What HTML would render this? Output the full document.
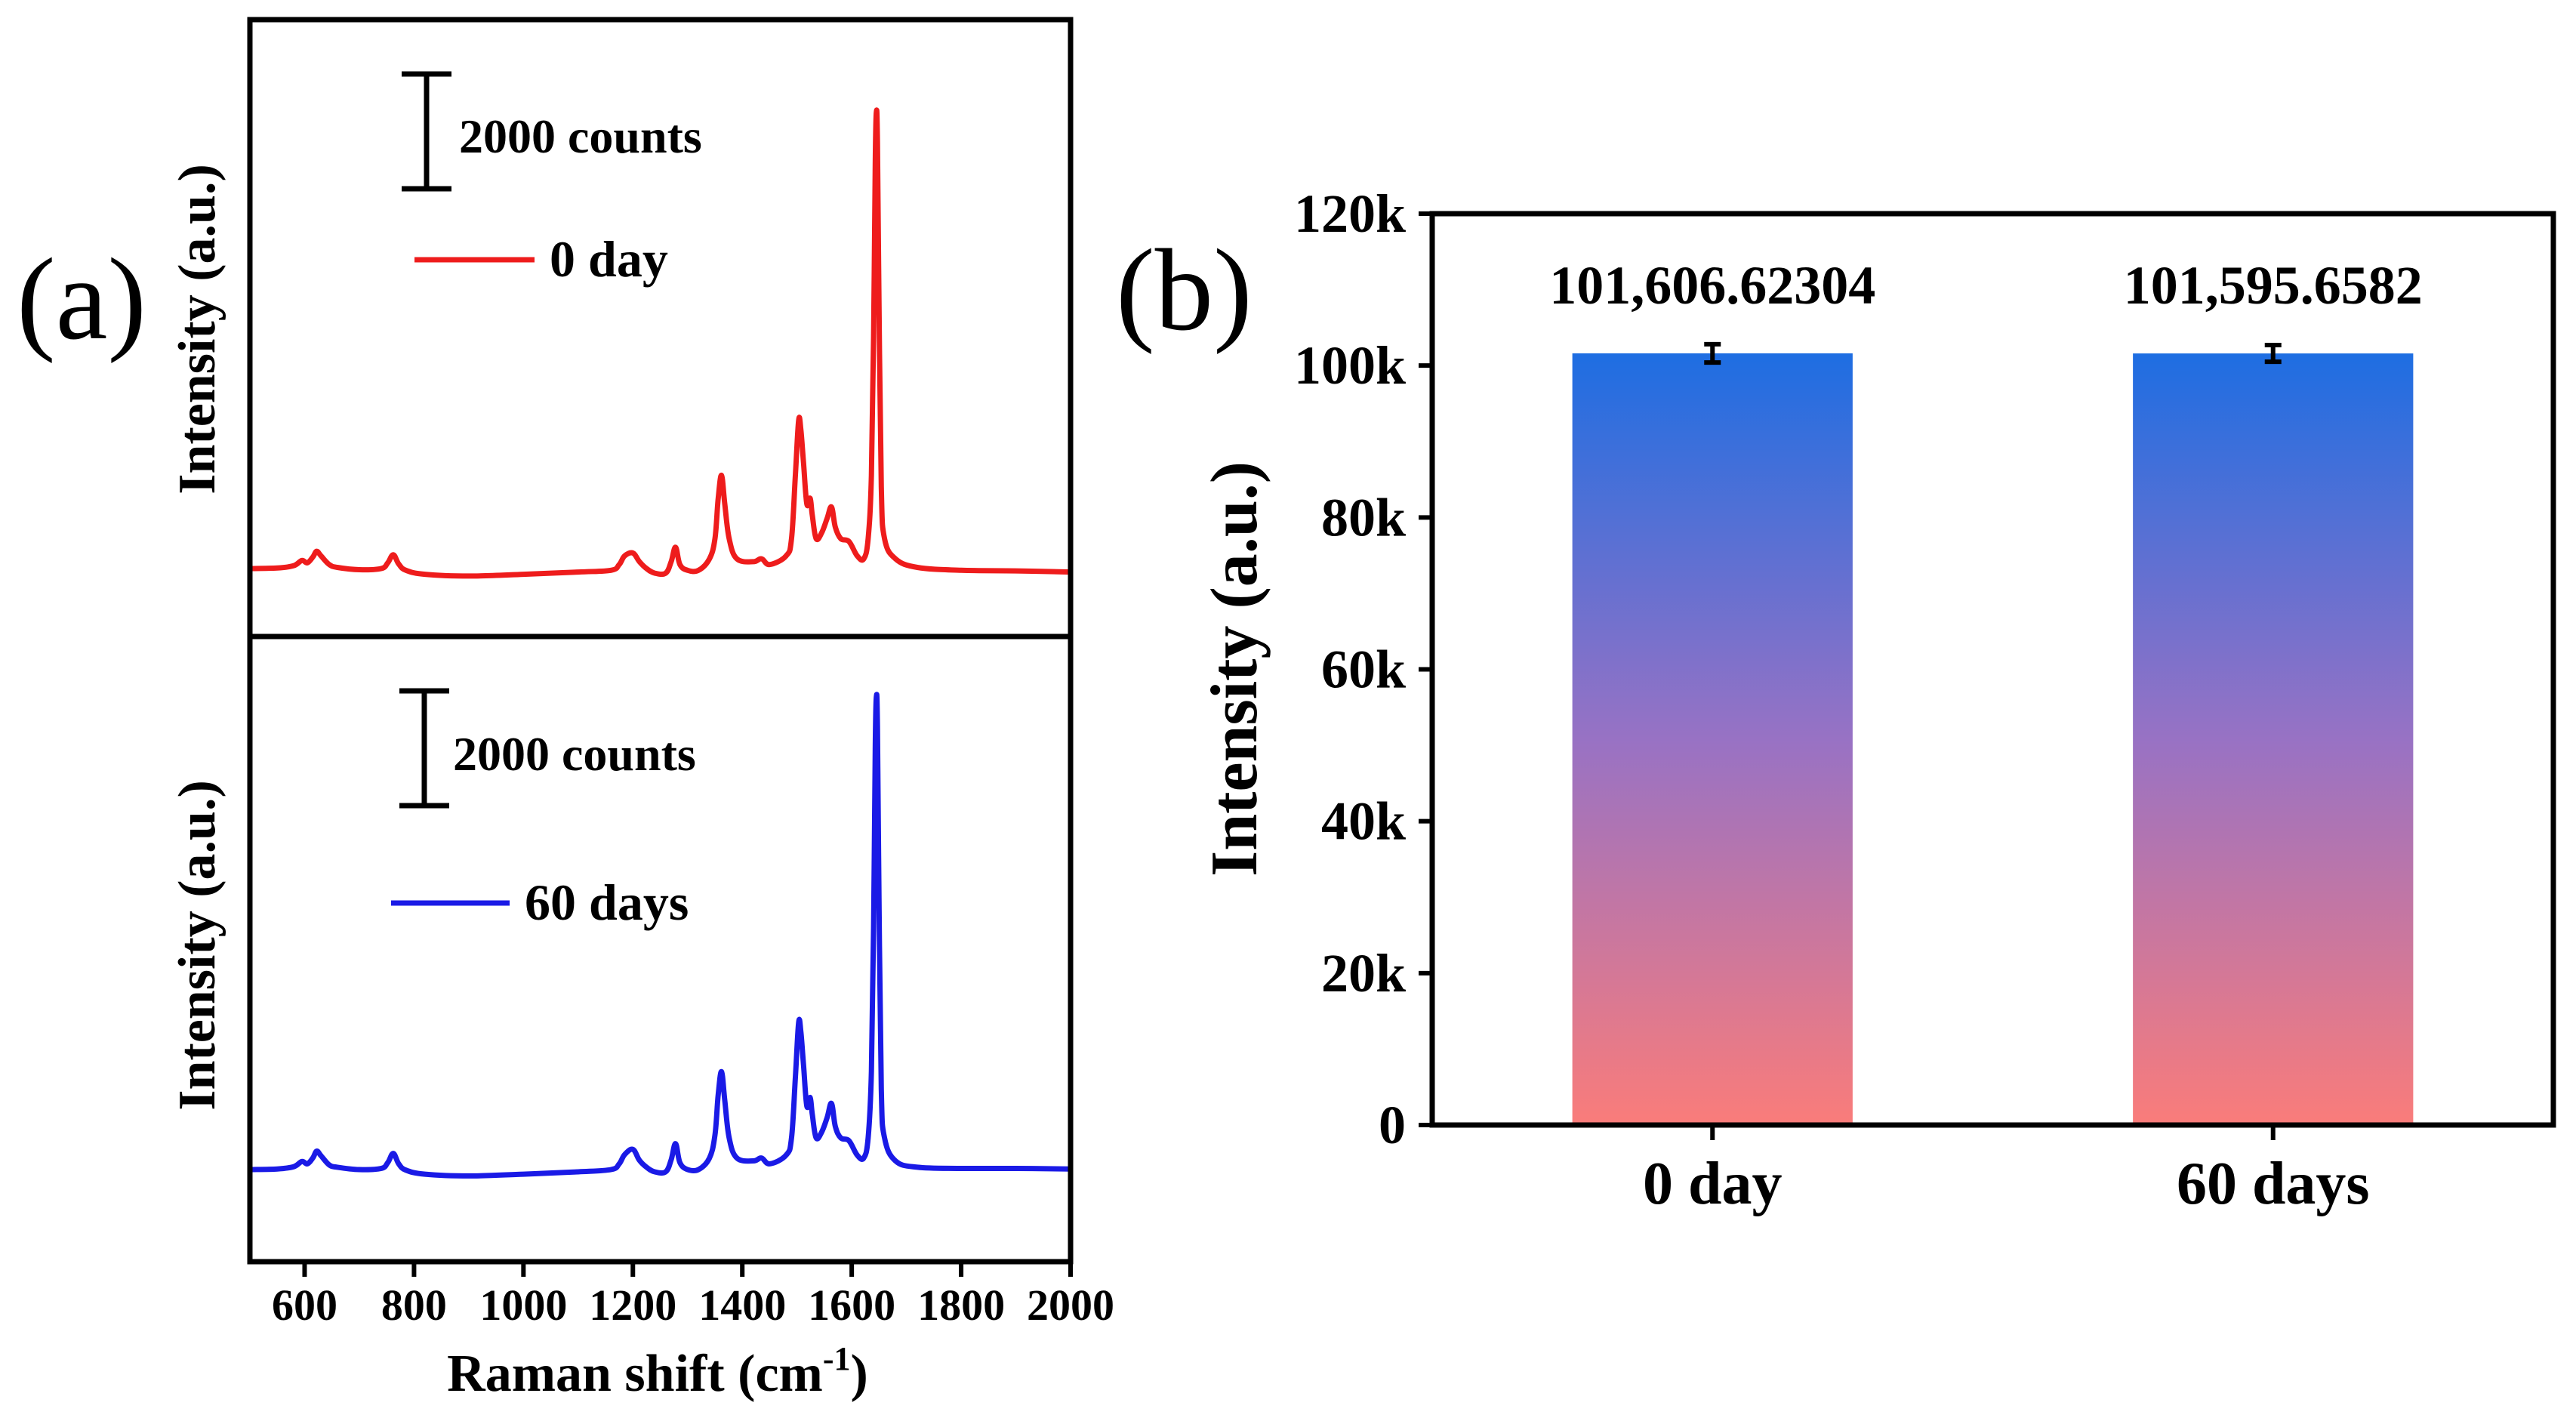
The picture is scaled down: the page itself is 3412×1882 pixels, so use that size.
<!DOCTYPE html>
<html><head><meta charset="utf-8"><style>
html,body{margin:0;padding:0;background:#fff;}
svg{display:block;font-family:"Liberation Serif",serif;}
</style></head><body>
<svg id="fig" width="3412" height="1882" viewBox="0 0 3412 1882" xmlns="http://www.w3.org/2000/svg">
<defs>
<linearGradient id="barGrad" x1="0" y1="0" x2="0" y2="1">
<stop offset="0" stop-color="#1e6ee2"/>
<stop offset="0.5" stop-color="#9872c4"/>
<stop offset="1" stop-color="#fa7c7a"/>
</linearGradient>
</defs>
<g id="panelA"></g>
<g id="panelB"></g>
</svg>
<script>
// ---- Panel (a) data ----
const ramanShift = [500,550,580,595,605,615,622,630,645,660,700,740,752,762,772,785,820,900,1000,1100,1160,1175,1185,1200,1212,1225,1240,1260,1270,1278,1286,1300,1320,1340,1350,1356,1362,1368,1376,1390,1420,1435,1450,1480,1490,1497,1503,1507,1512,1518,1524,1528,1535,1545,1555,1563,1570,1580,1595,1610,1622,1630,1636,1640,1643,1645,1647,1650,1654,1660,1680,1720,1800,1900,2000];
const counts0day = [1180,1190,1230,1320,1280,1380,1480,1400,1250,1200,1160,1180,1280,1420,1260,1150,1080,1050,1080,1120,1150,1250,1400,1450,1300,1180,1100,1100,1300,1550,1250,1150,1150,1350,1700,2400,2800,2300,1700,1350,1300,1350,1250,1400,1700,2800,3750,3600,3000,2300,2400,2100,1700,1800,2050,2250,1900,1700,1650,1400,1350,1700,2800,5200,8200,9100,8600,5600,2600,1700,1350,1200,1150,1140,1120];
const counts60days = [1600,1610,1650,1740,1700,1800,1920,1840,1680,1640,1600,1620,1720,1880,1700,1590,1520,1490,1520,1560,1600,1700,1860,1950,1760,1640,1560,1560,1770,2050,1720,1600,1600,1800,2200,2900,3300,2800,2150,1800,1750,1800,1700,1850,2150,3200,4150,4000,3400,2700,2850,2550,2150,2250,2500,2750,2350,2150,2100,1850,1800,2150,3300,5800,8900,9800,9300,6100,3000,2150,1750,1640,1620,1620,1610];
const xTicks = [600,800,1000,1200,1400,1600,1800,2000];
// ---- Panel (b) data ----
const categories = ["0 day","60 days"];
const barValues = [101606.62304, 101595.6582];
const barErrors = [1200, 1100];
const barLabels = ["101,606.62304","101,595.6582"];
const yTicksB = [0,20000,40000,60000,80000,100000,120000];
const yTickLabelsB = ["0","20k","40k","60k","80k","100k","120k"];

const NS="http://www.w3.org/2000/svg";
function mk(parent, tag, attrs, text){const e=document.createElementNS(NS,tag);for(const k in attrs)e.setAttribute(k,attrs[k]);if(text!==undefined)e.textContent=text;parent.appendChild(e);return e;}

// Panel A
const A=document.getElementById('panelA');
const axL=331, axR=1418, top1=26, mid=843, bot=1671;
const xA=v=>axL+(v-500)/1500*(axR-axL);
const yTop=c=>mid-(c/10714)*(mid-top1);
const yBot=c=>bot-(c/10857)*(bot-mid);
function drawSeries(vals, yf, color, name){
  const pts=ramanShift.map((x,i)=>[xA(x),yf(vals[i])]);
  let d='M'+pts[0][0].toFixed(1)+','+pts[0][1].toFixed(1);
  for(let i=0;i<pts.length-1;i++){
    const p0=pts[Math.max(0,i-1)],p1=pts[i],p2=pts[i+1],p3=pts[Math.min(pts.length-1,i+2)];
    const t=0.18;
    const c1x=p1[0]+(p2[0]-p0[0])*t, c1y=p1[1]+(p2[1]-p0[1])*t;
    const c2x=p2[0]-(p3[0]-p1[0])*t, c2y=p2[1]-(p3[1]-p1[1])*t;
    d+='C'+c1x.toFixed(1)+','+c1y.toFixed(1)+' '+c2x.toFixed(1)+','+c2y.toFixed(1)+' '+p2[0].toFixed(1)+','+p2[1].toFixed(1);
  }
  const p=mk(A,'path',{d:d,fill:'none',stroke:color,'stroke-width':7,'stroke-linejoin':'round'});
  
  
}
drawSeries(counts0day,yTop,'#ee1c1c','spectrum-0-day');
drawSeries(counts60days,yBot,'#1a1ae6','spectrum-60-days');
let f=mk(A,'rect',{x:axL,y:top1,width:axR-axL,height:bot-top1,fill:'none',stroke:'#000','stroke-width':7});

let dv=mk(A,'line',{x1:axL,x2:axR,y1:mid,y2:mid,stroke:'#000','stroke-width':7});

xTicks.forEach(t=>{
  const x=xA(t);
  const tk=mk(A,'line',{x1:x,x2:x,y1:bot,y2:bot+20,stroke:'#000','stroke-width':6});
  
  const tl=mk(A,'text',{x:x,y:1748,'text-anchor':'middle','font-size':58,'font-weight':'bold'},String(t));
  
});
mk(A,'text',{x:871,y:1842,'text-anchor':'middle','font-size':70,'font-weight':'bold',}).innerHTML='Raman shift (cm<tspan font-size="44" dy="-28">-1</tspan><tspan dy="28">)</tspan>';
mk(A,'text',{x:0,y:0,transform:'translate(284,436) rotate(-90)','text-anchor':'middle','font-size':70,'font-weight':'bold',},'Intensity (a.u.)');
mk(A,'text',{x:0,y:0,transform:'translate(284,1252) rotate(-90)','text-anchor':'middle','font-size':70,'font-weight':'bold',},'Intensity (a.u.)');
mk(A,'text',{x:22,y:448,'font-size':155,},'(a)');
function scaleBar(x,y1,y2,tx,ty,name){
  const g=mk(A,'g',{});
  mk(g,'line',{x1:x,x2:x,y1:y1,y2:y2,stroke:'#000','stroke-width':7});
  mk(g,'line',{x1:x-33,x2:x+33,y1:y1,y2:y1,stroke:'#000','stroke-width':7});
  mk(g,'line',{x1:x-33,x2:x+33,y1:y2,y2:y2,stroke:'#000','stroke-width':7});
  mk(g,'text',{x:tx,y:ty,'font-size':64,'font-weight':'bold'},'2000 counts');
}
scaleBar(565,98,250,608,202,'scale-bar-top');
scaleBar(562,915,1067,600,1020,'scale-bar-bottom');
const lg1=mk(A,'g',{});
mk(lg1,'line',{x1:549,x2:708,y1:344,y2:344,stroke:'#ee1c1c','stroke-width':7});
mk(lg1,'text',{x:728,y:366,'font-size':68,'font-weight':'bold'},'0 day');
const lg2=mk(A,'g',{});
mk(lg2,'line',{x1:518,x2:675,y1:1196,y2:1196,stroke:'#1a1ae6','stroke-width':7});
mk(lg2,'text',{x:695,y:1218,'font-size':68,'font-weight':'bold'},'60 days');

// Panel B
const B=document.getElementById('panelB');
const bL=1897,bR=3382,bT=283,bB=1490;
const yB=v=>bB-(v/120000)*(bB-bT);
const xB=i=>bL+(bR-bL)*(0.25+0.5*i);
const bw=(bR-bL)*0.25;
barValues.forEach((v,i)=>{
  const r=mk(B,'rect',{x:xB(i)-bw/2,y:yB(v),width:bw,height:bB-yB(v),fill:'url(#barGrad)'});
  
  
  const e=mk(B,'path',{d:`M${xB(i)},${yB(v+barErrors[i])}V${yB(v-barErrors[i])}M${xB(i)-11},${yB(v+barErrors[i])}h22M${xB(i)-11},${yB(v-barErrors[i])}h22`,stroke:'#000','stroke-width':6,fill:'none'});
  
  
  const t=mk(B,'text',{x:xB(i),y:402,'text-anchor':'middle','font-size':72,'font-weight':'bold'},barLabels[i]);
  
  
  const tk=mk(B,'line',{x1:xB(i),x2:xB(i),y1:bB,y2:bB+20,stroke:'#000','stroke-width':6});
  
  
  const cl=mk(B,'text',{x:xB(i),y:1594,'text-anchor':'middle','font-size':80,'font-weight':'bold'},categories[i]);
  
  
});
const fb=mk(B,'rect',{x:bL,y:bT,width:bR-bL,height:bB-bT,fill:'none',stroke:'#000','stroke-width':7});

yTicksB.forEach((t,i)=>{
  const y=yB(t);
  const tk=mk(B,'line',{x1:bL-18,x2:bL,y1:y,y2:y,stroke:'#000','stroke-width':6});
  
  const tl=mk(B,'text',{x:1862,y:y+24,'text-anchor':'end','font-size':72,'font-weight':'bold'},yTickLabelsB[i]);
  
});
mk(B,'text',{x:0,y:0,transform:'translate(1664,886) rotate(-90)','text-anchor':'middle','font-size':88,'font-weight':'bold',},'Intensity (a.u.)');
mk(B,'text',{x:1478,y:436,'font-size':155,},'(b)');
</script>
</body></html>
